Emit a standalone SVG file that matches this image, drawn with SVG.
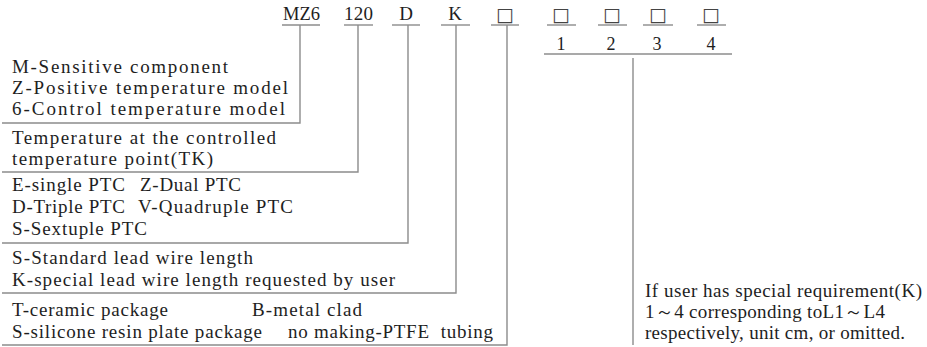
<svg xmlns="http://www.w3.org/2000/svg" width="927" height="347" viewBox="0 0 927 347">
<style>
text{font-family:"Liberation Serif","Times New Roman",serif;font-size:19px;fill:#1e1e1e}
.c{text-anchor:middle}
.d{font-size:18px}
.sq{font-family:"DejaVu Sans","Noto Sans CJK SC",sans-serif;font-size:19px;fill:#444}
.ln{stroke:#8c8c8c;stroke-width:1.4;fill:none}
</style>
<rect width="927" height="347" fill="#fff"/>
<g id="connectors" class="ln">
<polyline points="300,25 300,123 2,123"/>
<polyline points="358,25 358,172 2,172"/>
<polyline points="408,25 408,243 2,243"/>
<polyline points="456,25 456,293 2,293"/>
<polyline points="507,25 507,345 2,345"/>
<line x1="633" y1="58" x2="633" y2="345"/>
</g>
<g id="code-MZ6"><text x="283" y="20" textLength="37" lengthAdjust="spacingAndGlyphs">MZ6</text><line class="ln" x1="282" y1="25" x2="320" y2="25"/></g>
<g id="code-120"><text x="344" y="20" textLength="29" lengthAdjust="spacing">120</text><line class="ln" x1="344" y1="25" x2="373" y2="25"/></g>
<g id="code-D"><text class="c" x="406" y="20">D</text><line class="ln" x1="392" y1="25" x2="420" y2="25"/></g>
<g id="code-K"><text class="c" x="455" y="20">K</text><line class="ln" x1="441" y1="25" x2="470" y2="25"/></g>
<g id="code-box"><text class="c sq" x="505" y="21">□</text><line class="ln" x1="491" y1="25" x2="519" y2="25"/></g>
<g id="code-len">
<text class="c sq" x="561" y="21">□</text><line class="ln" x1="547" y1="25" x2="576" y2="25"/>
<text class="c sq" x="612" y="21">□</text><line class="ln" x1="598" y1="25" x2="627" y2="25"/>
<text class="c sq" x="658" y="21">□</text><line class="ln" x1="643" y1="25" x2="673" y2="25"/>
<text class="c sq" x="711" y="21">□</text><line class="ln" x1="697" y1="25" x2="726" y2="25"/>
<text class="c d" x="561" y="50">1</text>
<text class="c d" x="611" y="50">2</text>
<text class="c d" x="657" y="50">3</text>
<text class="c d" x="711" y="50">4</text>
<line class="ln" x1="544" y1="54" x2="732" y2="54"/>
</g>
<g id="desc-model">
<text x="12" y="73" textLength="216" lengthAdjust="spacing">M-Sensitive component</text>
<text x="12" y="94" textLength="276" lengthAdjust="spacing">Z-Positive temperature model</text>
<text x="12" y="115" textLength="273" lengthAdjust="spacing">6-Control temperature model</text>
</g>
<g id="desc-temp">
<text x="12" y="144" textLength="264" lengthAdjust="spacing">Temperature at the controlled</text>
<text x="12" y="165" textLength="201" lengthAdjust="spacing">temperature point(TK)</text>
</g>
<g id="desc-ptc">
<text x="12" y="191" textLength="113" lengthAdjust="spacing">E-single PTC</text>
<text x="140" y="191" textLength="101" lengthAdjust="spacing">Z-Dual PTC</text>
<text x="12" y="213" textLength="113" lengthAdjust="spacing">D-Triple PTC</text>
<text x="138" y="213" textLength="155" lengthAdjust="spacing">V-Quadruple PTC</text>
<text x="12" y="235" textLength="135" lengthAdjust="spacing">S-Sextuple PTC</text>
</g>
<g id="desc-lead">
<text x="12" y="264" textLength="241" lengthAdjust="spacing">S-Standard lead wire length</text>
<text x="12" y="286" textLength="383" lengthAdjust="spacing">K-special lead wire length requested by user</text>
</g>
<g id="desc-package">
<text x="12" y="316" textLength="156" lengthAdjust="spacing">T-ceramic package</text>
<text x="252" y="316" textLength="110" lengthAdjust="spacing">B-metal clad</text>
<text x="12" y="338" textLength="250" lengthAdjust="spacing">S-silicone resin plate package</text>
<text x="288" y="338" textLength="205" lengthAdjust="spacing" xml:space="preserve">no making-PTFE  tubing</text>
</g>
<g id="desc-length">
<text x="645" y="297" textLength="277" lengthAdjust="spacing">If user has special requirement(K)</text>
<text x="645" y="318" textLength="240" lengthAdjust="spacing">1～4 corresponding toL1～L4</text>
<text x="645" y="339" textLength="260" lengthAdjust="spacing">respectively, unit cm, or omitted.</text>
</g>
</svg>
